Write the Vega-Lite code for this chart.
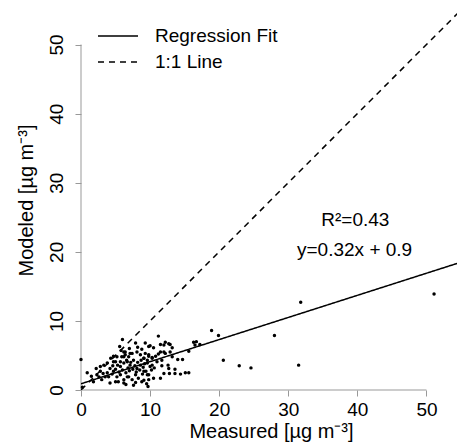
{
  "$schema": "https://vega.github.io/schema/vega-lite/v6.json",
  "width": 376,
  "height": 380,
  "autosize": "none",
  "padding": {"left": 81, "top": 10, "right": 0, "bottom": 56},
  "background": "white",
  "config": {
    "view": {"stroke": null},
    "font": "Liberation Sans",
    "axis": {"grid": false, "domain": false, "tickColor": "#999999", "tickSize": 6, "labelFont": "Liberation Sans", "labelFontSize": 19, "labelColor": "black", "titleFont": "Liberation Sans", "titleFontSize": 20, "titleFontWeight": "normal", "titleColor": "black"}
  },
  "encoding": {
    "x": {"field": "x", "type": "quantitative", "scale": {"domain": [0, 54.42], "nice": false, "zero": false},
      "axis": {"values": [0, 10, 20, 30, 40, 50], "labelBaseline": "alphabetic", "labelPadding": 19, "labelFlush": false, "labelOverlap": false, "title": "Measured [µg m⁻³]", "titleX": 190, "titleY": 47, "titleAlign": "center", "titleBaseline": "alphabetic", "titleAnchor": null}},
    "y": {"field": "y", "type": "quantitative", "scale": {"domain": [0, 55], "nice": false, "zero": false},
      "axis": {"values": [0, 10, 20, 30, 40, 50], "labelAngle": 270, "labelAlign": "center", "labelBaseline": "alphabetic", "labelPadding": 13, "labelFlush": false, "labelOverlap": false, "title": "Modeled [µg m⁻³]", "titleAngle": 270, "titleX": -49, "titleY": 190, "titleAlign": "center", "titleBaseline": "alphabetic", "titleAnchor": null}}
  },
  "layer": [
    {
      "data": {"values": [{"x": 0, "y": 0, "x2": 50, "y2": 0}, {"x": 0, "y": 0, "x2": 0, "y2": 50}]},
      "mark": {"type": "rule", "color": "#999999", "strokeWidth": 1},
      "encoding": {"x2": {"field": "x2"}, "y2": {"field": "y2"}}
    },
    {
      "data": {"values": [
        {"series": "Regression Fit", "x": 0, "y": 0.9},
        {"series": "Regression Fit", "x": 55, "y": 18.5},
        {"series": "1:1 Line", "x": 0, "y": 0},
        {"series": "1:1 Line", "x": 55, "y": 55}
      ]},
      "mark": {"type": "line", "color": "black", "strokeWidth": 1.5, "clip": true},
      "encoding": {
        "strokeDash": {"field": "series", "type": "nominal",
          "scale": {"domain": ["Regression Fit", "1:1 Line"], "range": [[1, 0], [6, 5]]},
          "legend": {"title": null, "orient": "none", "legendX": 26, "legendY": 15, "symbolType": "M-2,0H2", "symbolSize": 400, "symbolStrokeWidth": 1.5, "symbolStrokeColor": "black", "symbolFillColor": "transparent", "labelFontSize": 19, "labelFont": "Liberation Sans", "labelColor": "black", "labelOffset": 26, "rowPadding": 5, "padding": 0}}
      }
    },
    {
      "data": {"values": [
        {"x": 0.0, "y": 4.4}, {"x": 0.9, "y": 2.5}, {"x": 0.2, "y": 0.4}, {"x": 51.1, "y": 13.9}, {"x": 31.8, "y": 12.7}, {"x": 31.5, "y": 3.6}, {"x": 28.0, "y": 7.9}, {"x": 24.6, "y": 3.2}, {"x": 22.9, "y": 3.5}, {"x": 20.6, "y": 4.3}, {"x": 18.9, "y": 8.6}, {"x": 19.9, "y": 7.9},
        {"x": 16.3, "y": 6.9}, {"x": 16.7, "y": 7.0}, {"x": 17.2, "y": 6.6}, {"x": 16.5, "y": 6.5}, {"x": 15.6, "y": 5.6}, {"x": 14.7, "y": 4.4}, {"x": 14.0, "y": 4.4}, {"x": 13.6, "y": 3.0}, {"x": 14.4, "y": 2.3}, {"x": 15.1, "y": 2.5}, {"x": 15.6, "y": 2.5}, {"x": 12.8, "y": 2.4}, {"x": 12.6, "y": 3.6}, {"x": 11.7, "y": 3.5}, {"x": 13.2, "y": 6.1}, {"x": 12.9, "y": 6.6}, {"x": 12.2, "y": 6.9}, {"x": 11.5, "y": 6.6}, {"x": 11.2, "y": 7.8}, {"x": 10.5, "y": 6.1}, {"x": 9.8, "y": 6.3}, {"x": 9.3, "y": 6.8}, {"x": 12.0, "y": 5.5}, {"x": 11.2, "y": 5.2}, {"x": 10.8, "y": 4.9}, {"x": 10.3, "y": 4.7}, {"x": 9.8, "y": 4.9}, {"x": 9.6, "y": 4.3}, {"x": 9.1, "y": 4.6}, {"x": 11.7, "y": 4.3}, {"x": 11.0, "y": 4.1}, {"x": 10.3, "y": 3.6}, {"x": 6.0, "y": 7.3}, {"x": 7.9, "y": 6.8}, {"x": 10.0, "y": 6.4}, {"x": 12.0, "y": 6.5}, {"x": 12.7, "y": 6.7}, {"x": 6.4, "y": 5.5}, {"x": 7.1, "y": 5.3}, {"x": 5.2, "y": 4.8}, {"x": 6.2, "y": 4.8}, {"x": 4.7, "y": 4.1}, {"x": 5.7, "y": 4.1}, {"x": 6.6, "y": 4.3}, {"x": 11.5, "y": 5.5}, {"x": 12.2, "y": 5.3}, {"x": 12.9, "y": 5.5}, {"x": 13.2, "y": 4.8}, {"x": 12.7, "y": 3.1}, {"x": 12.0, "y": 2.4}, {"x": 11.5, "y": 1.7}, {"x": 10.5, "y": 1.7}, {"x": 9.8, "y": 2.2}, {"x": 9.1, "y": 1.4}, {"x": 7.6, "y": 0.7}, {"x": 6.2, "y": 1.0}, {"x": 5.0, "y": 1.2}, {"x": 6.9, "y": 1.9}, {"x": 13.6, "y": 2.4},
        {"x": 2.3, "y": 2.2}, {"x": 2.8, "y": 2.7}, {"x": 3.3, "y": 3.6}, {"x": 3.8, "y": 3.9}, {"x": 4.2, "y": 3.1}, {"x": 4.7, "y": 2.7}, {"x": 4.2, "y": 1.0}, {"x": 5.2, "y": 1.9}, {"x": 5.7, "y": 3.4}, {"x": 6.2, "y": 3.9}, {"x": 6.7, "y": 4.1}, {"x": 7.1, "y": 3.6}, {"x": 7.6, "y": 4.3}, {"x": 8.1, "y": 3.1}, {"x": 8.6, "y": 3.6}, {"x": 9.1, "y": 2.7}, {"x": 9.6, "y": 2.2}, {"x": 9.8, "y": 1.5}, {"x": 7.4, "y": 1.5}, {"x": 6.7, "y": 1.9}, {"x": 6.2, "y": 1.5}, {"x": 5.7, "y": 2.2}, {"x": 5.4, "y": 1.2}, {"x": 7.9, "y": 2.2}, {"x": 8.3, "y": 1.7}, {"x": 8.8, "y": 1.2}, {"x": 3.5, "y": 1.9}, {"x": 3.0, "y": 1.5}, {"x": 4.0, "y": 1.9}, {"x": 2.8, "y": 3.4}, {"x": 2.2, "y": 3.1}, {"x": 5.0, "y": 4.1}, {"x": 5.9, "y": 4.8}, {"x": 6.4, "y": 5.1}, {"x": 6.9, "y": 4.8}, {"x": 7.4, "y": 5.3}, {"x": 8.1, "y": 5.5}, {"x": 8.6, "y": 5.1}, {"x": 9.1, "y": 4.6}, {"x": 9.6, "y": 3.9}, {"x": 10.0, "y": 3.4}, {"x": 10.3, "y": 4.6}, {"x": 6.2, "y": 5.5}, {"x": 5.8, "y": 5.7}, {"x": 8.8, "y": 5.9}, {"x": 9.3, "y": 5.3}, {"x": 9.8, "y": 5.1},
        {"x": 7.0, "y": 2.8}, {"x": 7.5, "y": 3.0}, {"x": 8.0, "y": 2.6}, {"x": 8.5, "y": 2.9}, {"x": 9.0, "y": 3.3}, {"x": 6.5, "y": 2.5}, {"x": 6.0, "y": 2.9}, {"x": 5.5, "y": 2.6}, {"x": 5.0, "y": 3.0}, {"x": 4.5, "y": 2.3}, {"x": 3.8, "y": 2.5}, {"x": 7.2, "y": 4.0}, {"x": 8.2, "y": 4.0}, {"x": 8.7, "y": 4.3}, {"x": 9.2, "y": 3.8}, {"x": 7.8, "y": 3.5}, {"x": 6.8, "y": 3.2}, {"x": 5.3, "y": 3.6}, {"x": 4.6, "y": 3.5}, {"x": 3.2, "y": 2.4}, {"x": 2.6, "y": 1.9}, {"x": 1.8, "y": 1.2}, {"x": 1.5, "y": 2.0}, {"x": 9.4, "y": 2.7}, {"x": 10.2, "y": 2.9}, {"x": 10.6, "y": 3.2}, {"x": 8.9, "y": 2.3}, {"x": 9.5, "y": 0.9}, {"x": 9.7, "y": 0.5}, {"x": 7.9, "y": 1.1}, {"x": 6.5, "y": 0.8}, {"x": 8.2, "y": 6.2}, {"x": 7.0, "y": 6.0}, {"x": 5.6, "y": 6.3}, {"x": 4.3, "y": 4.6}, {"x": 4.7, "y": 4.9}
      ]},
      "mark": {"type": "circle", "color": "black", "opacity": 1, "size": 12}
    },
    {
      "data": {"values": [
        {"x": 39.7, "y": 24.6, "label": "R²=0.43"},
        {"x": 39.6, "y": 20.3, "label": "y=0.32x + 0.9"}
      ]},
      "mark": {"type": "text", "font": "Liberation Sans", "fontSize": 19, "color": "black", "align": "center", "baseline": "middle"},
      "encoding": {"text": {"field": "label"}}
    }
  ]
}
